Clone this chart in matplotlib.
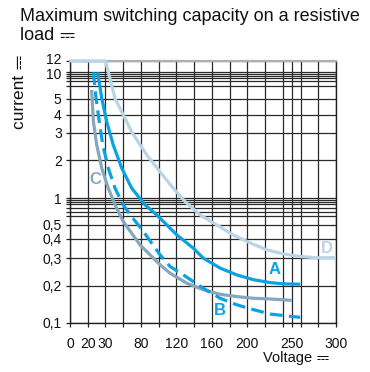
import numpy as np
import matplotlib
matplotlib.use("Agg")
import matplotlib.pyplot as plt
from matplotlib import font_manager, ft2font
from matplotlib.lines import Line2D
from matplotlib.transforms import ScaledTranslation

plt.rcParams['font.family'] = ['Liberation Sans', 'DejaVu Sans']

# ---------------- data ----------------
x_tick_volts = [0, 20, 30, 80, 120, 160, 200, 250, 300]
y_tick_amps = [0.1, 0.2, 0.3, 0.4, 0.5, 1, 2, 3, 4, 5, 10, 12]
y_tick_labels = ["0,1", "0,2", "0,3", "0,4", "0,5", "1", "2", "3", "4", "5", "10", "12"]

A_volts = [25.6, 27.9, 31.8, 41, 53, 67, 84.7, 97.8, 120.4, 139.2, 150.4, 169.3, 188.2, 206.9, 225.7, 240.7, 259.6]
A_amps = [10, 5.05, 3.58, 2.50, 1.73, 1.20, 0.839, 0.645, 0.425, 0.347, 0.30, 0.259, 0.234, 0.218, 0.209, 0.205, 0.204]

B_volts = [23.2, 24.7, 26.5, 28.5, 34, 43.5, 55, 66, 82.7, 101.6, 112.9, 127.9, 150.4, 169.3, 188.2, 206.9, 225.7, 259.6]
B_amps = [10, 5.05, 3.58, 2.50, 1.73, 1.20, 0.839, 0.63, 0.448, 0.315, 0.265, 0.234, 0.190, 0.158, 0.140, 0.128, 0.118, 0.111]

C_volts = [22.2, 23.2, 25.1, 27.9, 34, 43.5, 55.2, 78.7, 101.6, 112.9, 131.7, 150.4, 169.3, 188.2, 206.9, 225.7, 250]
C_amps = [6.3, 3.58, 2.50, 1.73, 1.20, 0.839, 0.541, 0.365, 0.272, 0.240, 0.207, 0.185, 0.170, 0.163, 0.158, 0.156, 0.152]

D_volts = [0, 30, 43.5, 55, 67, 86.6, 101.6, 116, 129.8, 146.7, 165.6, 184, 203, 222, 240, 259.6, 278, 300]
D_amps = [12, 12, 5.05, 4.0, 3.03, 2.16, 1.62, 1.21, 0.915, 0.645, 0.497, 0.425, 0.376, 0.339, 0.32, 0.307, 0.302, 0.302]

curve_names = ["A", "B", "C", "D"]
label_volts = [231, 169, 24, 290]
label_amps = [0.252, 0.125, 1.40, 0.347]

title_line1 = "Maximum switching capacity on a resistive"
title_line2 = "load"
y_label = "current"
x_label = "Voltage"
DC = "\u2393"

# ---------------- layout / scale definitions ----------------
X_SCALE_V = [0, 20, 30, 80, 300]
X_SCALE_P = [0, 1, 2, 4, 15]
Y_SCALE_P = -np.array([323.2, 285.7, 258.3, 238.8, 224.7, 198.3, 160.3, 132.7, 114.7, 98.8, 72.3, 61.0])
Y_LOG = np.log10(y_tick_amps)


def xf(v):
    return np.interp(np.asarray(v, dtype=float), X_SCALE_V, X_SCALE_P)


def xi(p):
    return np.interp(np.asarray(p, dtype=float), X_SCALE_P, X_SCALE_V)


def yf(c):
    c = np.clip(np.asarray(c, dtype=float), 1e-4, None)
    return np.interp(np.log10(c), Y_LOG, Y_SCALE_P)


def yi(p):
    return 10 ** np.interp(np.asarray(p, dtype=float), Y_SCALE_P, Y_LOG)


# find an installed family that has the DC sign
dc_family = None
for fe in font_manager.fontManager.ttflist:
    try:
        if 0x2393 in ft2font.FT2Font(fe.fname).get_charmap():
            dc_family = fe.name
            break
    except Exception:
        pass

x_minor_grid = [55, 100, 140, 180, 220, 240, 260, 280]
y_minor_grid = [0.63, 0.7, 0.78, 0.85, 0.9, 0.95, 7, 8, 8.5, 9, 9.5]

col_blue = "#0aa2e0"
col_gray = "#86a7bd"
col_light = "#b8d4e5"
colors = [col_blue, col_blue, col_gray, col_light]
txt_col = '#111111'

W, H = 370, 372
fig = plt.figure(figsize=(W / 100, H / 100), dpi=100)
ax = fig.add_axes([70 / W, 1 - 323 / H, 266 / W, 262 / H])
ax.set_xscale('function', functions=(xf, xi))
ax.set_yscale('function', functions=(yf, yi))
ax.set_xlim(0, 300)
ax.set_ylim(0.1, 12)

ax.set_xticks(x_tick_volts)
ax.set_xticklabels([str(v) for v in x_tick_volts])
ax.set_xticks(x_minor_grid, minor=True)
ax.set_yticks(y_tick_amps)
ax.set_yticklabels(y_tick_labels)
ax.set_yticks(y_minor_grid, minor=True)

ax.grid(True, which='both', color='#2a2a2a', lw=0.9, zorder=1)
ax.set_axisbelow(True)
ax.tick_params(axis='both', which='both', direction='out', length=3, width=0.9,
               color='#222222', labelsize=10, labelcolor=txt_col)
ax.tick_params(axis='x', which='both', pad=7)
ax.tick_params(axis='y', which='both', pad=3)

# nudge the two crowded top labels apart a little
yt = ax.yaxis.get_major_ticks()
for tick, dy in ((yt[-1], 2.0), (yt[-2], -1.5)):
    tick.label1.set_transform(tick.label1.get_transform() + ScaledTranslation(0, dy / 100, fig.dpi_scale_trans))

for s in ['left', 'bottom', 'right']:
    ax.spines[s].set_color('#222222')
    ax.spines[s].set_linewidth(1.0)
ax.spines['top'].set_color('#b0b0b0')
ax.spines['top'].set_linewidth(1.6)

ax.plot(D_volts, D_amps, color=col_light, lw=2.3, zorder=3, clip_on=False, solid_capstyle='butt')
ax.plot(C_volts, C_amps, color=col_gray, lw=2.3, zorder=4, solid_capstyle='butt')
ax.plot(A_volts, A_amps, color=col_blue, lw=2.3, zorder=5, solid_capstyle='butt')
ax.plot(B_volts, B_amps, color=col_blue, lw=2.3, zorder=5, dashes=(4, 2), dash_capstyle='butt')

for name, v, a, c in zip(curve_names, label_volts, label_amps, colors):
    ax.text(v, a, name, color=c, fontsize=12, fontweight='bold', ha='center', va='center', zorder=6)


def fx(px):
    return px / W


def fy(py):
    return 1 - py / H


fig.text(fx(20), fy(21), title_line1, fontsize=13, va='baseline', color=txt_col)

if dc_family is not None:
    fam = ['Liberation Sans', dc_family]
    fig.text(fx(20), fy(40), title_line2 + " " + DC, fontsize=13, va='baseline', color=txt_col, family=fam)
    fig.text(fx(20), fy(129), y_label + " " + DC, fontsize=12.5, rotation=90,
             ha='center', va='bottom', color=txt_col, family=fam)
    fig.text(fx(263), fy(362), x_label + " " + DC, fontsize=10.5, va='baseline', color=txt_col, family=fam)
else:
    # no installed family has the DC sign: draw it as a small shape
    fig.text(fx(20), fy(40), title_line2, fontsize=13, va='baseline', color=txt_col)
    fig.text(fx(20), fy(129), y_label, fontsize=12.5, rotation=90,
             ha='center', va='bottom', color=txt_col)
    fig.text(fx(263), fy(362), x_label, fontsize=10.5, va='baseline', color=txt_col)

    def dc_sign(x0, y0, w, gap, vertical=False, lw=0.9):
        seg = w / 5.0
        if not vertical:
            fig.add_artist(Line2D([fx(x0), fx(x0 + w)], [fy(y0), fy(y0)], color=txt_col, lw=lw,
                                  transform=fig.transFigure))
            for k in (0, 2, 4):
                fig.add_artist(Line2D([fx(x0 + k * seg), fx(x0 + (k + 1) * seg)], [fy(y0 + gap), fy(y0 + gap)],
                                      color=txt_col, lw=lw, transform=fig.transFigure))
        else:
            fig.add_artist(Line2D([fx(x0), fx(x0)], [fy(y0), fy(y0 - w)], color=txt_col, lw=lw,
                                  transform=fig.transFigure))
            for k in (0, 2, 4):
                fig.add_artist(Line2D([fx(x0 + gap), fx(x0 + gap)], [fy(y0 - k * seg), fy(y0 - (k + 1) * seg)],
                                      color=txt_col, lw=lw, transform=fig.transFigure))

    dc_sign(62, 34, 13, 4.5)
    dc_sign(18.5, 63, 13, 3.5, vertical=True)
    dc_sign(320, 357.5, 12, 4)

fig.savefig("out.png", dpi=100)
